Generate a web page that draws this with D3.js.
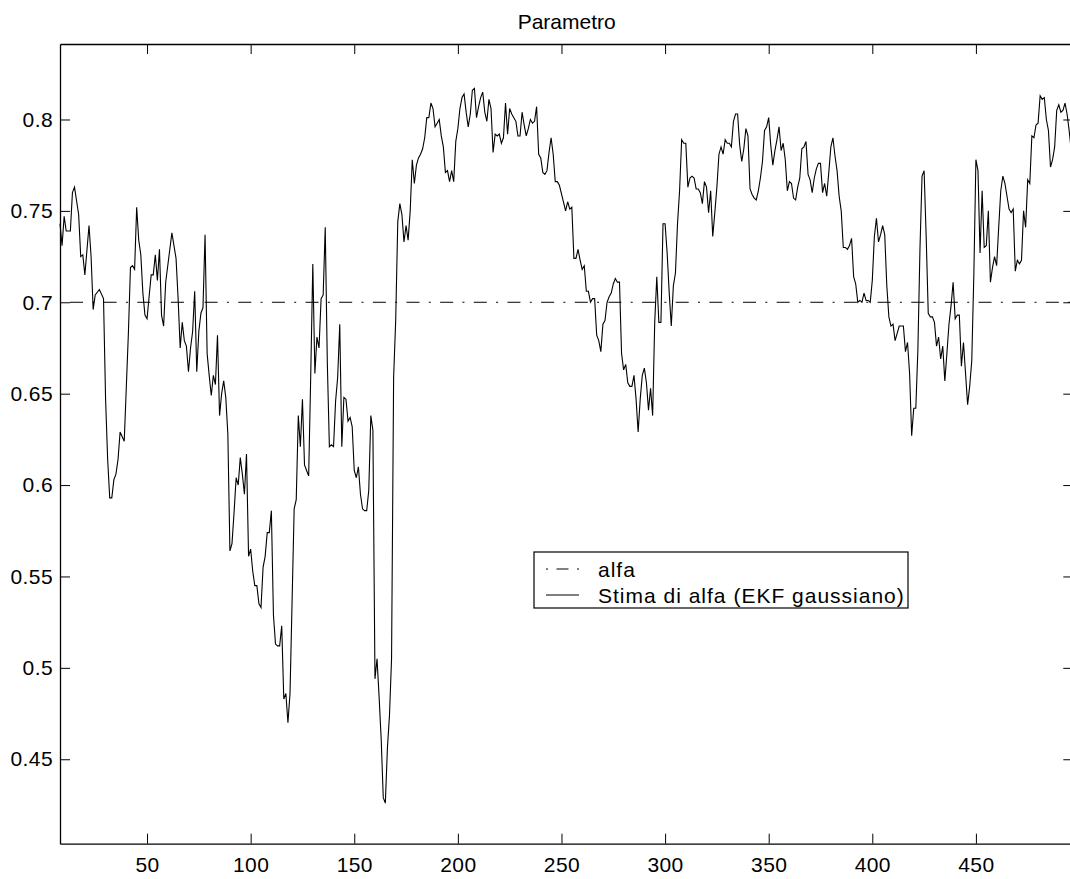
<!DOCTYPE html>
<html>
<head>
<meta charset="utf-8">
<script src="https://cdn.jsdelivr.net/npm/d3@7"></script>
<style>
  body { margin: 0; background: #fff; }
  svg { display: block; font-family: "Liberation Sans", Arial, Helvetica, sans-serif; }
</style>
</head>
<body>
<svg id="chart" width="1070" height="879"></svg>
<script>
// values: [step, estimated alfa]
const stimaAlfa = [
  [8,.743],[9,.731],[10,.747],[11,.739],[13,.739],[14,.760],[15,.763],[17,.748],[18,.725],[19,.726],[20,.715],[22,.742],[23,.725],[24,.696],[25,.704],[27,.707],[29,.702],[30,.647],[31,.614],[32,.593],[33,.593],[34,.603],[35,.606],[36,.614],[37,.629],[39,.624],[41,.683],[42,.719],[43,.720],[44,.718],[45,.752],[46,.734],[47,.726],[48,.705],[49,.693],[50,.691],[51,.703],[52,.715],[53,.715],[54,.726],[55,.712],[56,.729],[57,.693],[58,.687],[59,.711],[60,.720],[62,.738],[64,.724],[65,.702],[66,.675],[67,.689],[68,.679],[69,.676],[70,.662],
  [71,.675],[72,.684],[73,.706],[74,.662],[75,.684],[76,.694],[77,.697],[78,.737],[79,.672],[80,.660],[81,.649],[82,.660],[83,.655],[84,.682],[85,.638],[86,.650],[87,.657],[88,.648],[89,.628],[90,.564],[91,.568],[92,.585],[93,.604],[94,.600],[95,.615],[96,.606],[97,.595],[98,.617],[99,.561],[100,.565],[101,.553],[102,.545],[103,.545],[104,.535],[105,.533],[106,.555],[107,.561],[108,.574],[109,.574],[110,.586],[111,.529],[112,.513],[113,.512],[114,.512],[115,.523],[116,.483],[117,.486],[118,.470],[119,.486],[121,.587],[122,.592],[123,.638],[124,.621],[125,.647],[126,.611],[127,.608],[128,.605],[129,.660],[130,.721],[131,.661],[132,.681],
  [133,.675],[134,.702],[135,.704],[136,.741],[137,.667],[138,.621],[139,.622],[140,.621],[141,.646],[142,.659],[143,.688],[144,.621],[145,.648],[146,.647],[147,.635],[148,.637],[149,.632],[150,.608],[151,.604],[152,.610],[153,.595],[154,.587],[155,.586],[156,.586],[157,.597],[158,.638],[159,.630],[160,.494],[161,.505],[162,.484],[163,.461],[164,.429],[165,.426],[166,.456],[167,.474],[168,.505],[169,.659],[170,.690],[171,.744],[172,.754],[173,.748],[174,.733],[175,.742],[176,.734],[177,.750],[178,.778],[179,.765],[180,.775],[181,.779],[182,.781],[183,.784],[184,.790],[185,.801],[186,.801],[187,.809],[188,.806],[189,.796],[190,.798],[191,.800],[192,.791],[193,.785],
  [194,.771],[195,.772],[196,.766],[197,.772],[198,.766],[199,.788],[200,.795],[201,.806],[202,.812],[203,.814],[204,.804],[205,.796],[206,.803],[207,.816],[208,.817],[209,.801],[210,.807],[211,.812],[212,.815],[213,.804],[214,.799],[215,.811],[216,.806],[217,.782],[218,.792],[219,.791],[220,.792],[221,.787],[222,.790],[223,.809],[224,.792],[225,.806],[226,.803],[227,.801],[228,.799],[229,.791],[230,.791],[231,.804],[232,.797],[233,.791],[234,.795],[235,.800],[236,.798],[237,.799],[238,.807],[239,.781],[240,.779],[241,.771],[242,.770],[243,.772],[244,.782],[245,.790],[246,.781],[247,.766],[248,.766],[249,.764],
  [252,.750],[253,.755],[254,.751],[255,.752],[256,.724],[257,.724],[258,.729],[259,.723],[260,.718],[261,.720],[262,.706],[263,.706],[264,.700],[265,.702],[266,.702],[267,.682],[268,.679],[269,.673],[270,.688],[271,.690],[272,.700],[273,.703],[274,.705],[275,.710],[276,.713],[277,.711],[278,.711],[279,.672],[280,.663],[281,.666],[282,.656],[283,.654],[284,.654],[285,.660],[286,.647],[287,.629],[288,.647],[289,.660],[290,.664],[291,.656],[292,.641],[293,.653],[294,.638],[295,.689],[296,.714],[297,.689],[298,.689],[299,.743],[300,.743],[301,.727],[302,.705],[303,.687],[304,.709],[305,.716],[306,.743],[307,.761],[308,.789],[309,.787],[310,.787],[311,.763],[312,.768],[313,.769],[314,.768],
  [315,.762],[316,.762],[317,.760],[318,.754],[319,.766],[320,.763],[321,.749],[322,.761],[323,.736],[324,.749],[325,.763],[326,.781],[327,.785],[328,.781],[329,.789],[330,.787],[331,.787],[332,.785],[333,.799],[334,.803],[335,.803],[336,.786],[337,.777],[338,.784],[339,.795],[340,.791],[341,.762],[342,.759],[343,.757],[344,.756],[345,.761],[346,.768],[347,.777],[348,.794],[349,.796],[350,.801],[351,.786],[352,.775],[353,.783],[354,.789],[355,.796],[356,.783],[357,.787],[358,.778],[359,.761],[360,.766],[361,.765],[362,.757],[363,.756],[364,.763],[365,.768],[366,.784],[367,.785],[368,.788],[369,.770],[370,.767],[371,.760],[372,.768],[373,.773],[374,.776],[375,.776],
  [376,.760],[377,.765],[378,.758],[379,.771],[380,.785],[381,.790],[382,.780],[383,.772],[384,.758],[385,.750],[386,.730],[387,.730],[388,.729],[389,.731],[390,.735],[391,.714],[392,.710],[393,.700],[394,.701],[395,.700],[396,.705],[397,.701],[398,.701],[399,.700],[400,.712],[401,.736],[402,.746],[403,.733],[404,.737],[405,.742],[406,.737],[407,.709],[408,.692],[409,.687],[410,.688],[411,.679],[412,.683],[413,.687],[414,.687],[415,.687],[416,.673],[417,.678],[418,.661],[419,.627],[420,.642],[421,.642],[422,.674],[423,.729],[424,.769],[425,.772],[426,.736],[427,.694],[428,.692],[429,.692],[430,.689],[431,.676],[432,.681],[433,.669],[434,.676],[435,.657],
  [436,.672],[437,.688],[438,.698],[439,.711],[440,.691],[441,.693],[442,.693],[443,.665],[444,.678],[445,.661],[446,.644],[447,.654],[448,.668],[449,.715],[450,.778],[451,.772],[452,.727],[453,.761],[454,.730],[455,.731],[456,.750],[457,.711],[458,.719],[459,.725],[460,.720],[461,.741],[462,.761],[463,.769],[464,.765],[465,.758],[466,.751],[467,.749],[468,.751],[469,.717],[470,.723],[471,.721],[472,.723],[473,.750],[474,.741],[475,.767],[476,.765],[477,.791],[478,.790],[479,.797],[480,.798],[481,.813],[482,.811],[483,.812],[484,.800],[485,.794],[486,.774],[487,.778],[488,.785],[489,.805],[490,.808],[491,.804],[492,.805],[493,.809],[494,.803],[495,.794],[496,.783]
];

const alfa = 0.7;
const xTicks = [50, 100, 150, 200, 250, 300, 350, 400, 450];
const yTicks = [0.45, 0.5, 0.55, 0.6, 0.65, 0.7, 0.75, 0.8];
const xLimits = [8, 497];
const yLimits = [0.4038, 0.8413];
const legendLabels = ['alfa', 'Stima di alfa (EKF gaussiano)'];
const title = 'Parametro';

const width = 1070;
const height = 879;
const fontSize = 21;
const plot = { left: 60, right: 1073.3, top: 44, bottom: 843.7 };

const svg = d3.select('#chart');
svg.append('rect').attr('width', width).attr('height', height).attr('fill', '#fff');

const x = d3.scaleLinear().domain(xLimits).range([plot.left, plot.right]);
const y = d3.scaleLinear().domain(yLimits).range([plot.bottom, plot.top]);

// axes, MATLAB style: ticks pointing inwards on all four sides
function styleAxis(g) {
  g.attr('font-size', fontSize)
    .attr('font-family', null);
  g.select('.domain').attr('stroke-width', 1.3);
  g.selectAll('.tick line').attr('stroke-width', 1);
  g.selectAll('.tick text').attr('fill', '#000').attr('letter-spacing', 0.4);
}

svg.append('g')
  .attr('transform', `translate(0,${plot.bottom})`)
  .call(d3.axisBottom(x).tickValues(xTicks).tickSizeInner(-10).tickSizeOuter(0).tickPadding(13))
  .call(styleAxis);

svg.append('g')
  .attr('transform', `translate(${plot.left},0)`)
  .call(d3.axisLeft(y).tickValues(yTicks).tickSizeInner(-10).tickSizeOuter(0).tickPadding(7)
    .tickFormat(d => String(d)))
  .call(styleAxis);

svg.append('g')
  .attr('transform', `translate(0,${plot.top})`)
  .call(d3.axisTop(x).tickValues(xTicks).tickSizeInner(-10).tickSizeOuter(0).tickFormat(''))
  .call(styleAxis);

svg.append('g')
  .attr('transform', `translate(${plot.right},0)`)
  .call(d3.axisRight(y).tickValues(yTicks).tickSizeInner(-10).tickSizeOuter(0).tickFormat(''))
  .call(styleAxis);

// true parameter, dash-dot
svg.append('line')
  .attr('x1', x(xLimits[0]))
  .attr('x2', x(xLimits[1]))
  .attr('y1', y(alfa))
  .attr('y2', y(alfa))
  .attr('stroke', '#000')
  .attr('stroke-width', 1)
  .attr('stroke-dasharray', '13,9.3,2,9.35')
  .attr('stroke-dashoffset', 23.65);

// EKF estimate
const line = d3.line()
  .x(d => x(d[0]))
  .y(d => y(d[1]));

svg.append('path')
  .datum(stimaAlfa)
  .attr('d', line)
  .attr('fill', 'none')
  .attr('stroke', '#000')
  .attr('stroke-width', 1.1);

// title
svg.append('text')
  .attr('x', (plot.left + plot.right) / 2)
  .attr('y', 29)
  .attr('text-anchor', 'middle')
  .attr('font-size', fontSize)
  .text(title);

// legend
const legend = svg.append('g').attr('transform', 'translate(534,552)');
legend.append('rect')
  .attr('width', 374)
  .attr('height', 56)
  .attr('fill', '#fff')
  .attr('stroke', '#000')
  .attr('stroke-width', 1.2);

const rows = legend.selectAll('g.row')
  .data(legendLabels)
  .join('g')
  .attr('class', 'row')
  .attr('transform', (d, i) => `translate(0,${17 + i * 26})`);

rows.append('line')
  .attr('x1', 12)
  .attr('x2', 45)
  .attr('stroke', '#000')
  .attr('stroke-width', 1)
  .attr('stroke-dasharray', (d, i) => i === 0 ? '2,8.5,12,8.5,2' : null);

rows.append('text')
  .attr('x', 64)
  .attr('y', 8)
  .attr('font-size', fontSize)
  .attr('letter-spacing', 1)
  .text(d => d);
</script>
</body>
</html>
